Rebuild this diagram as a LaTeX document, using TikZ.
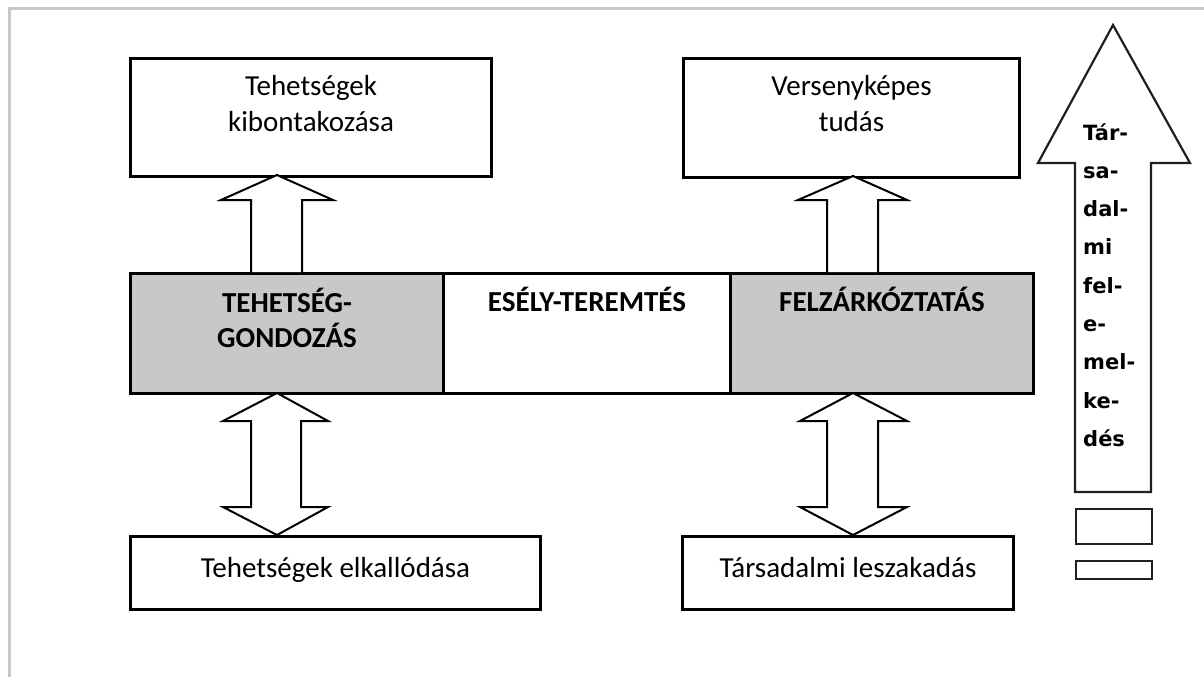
\documentclass[tikz,border=0pt]{standalone}
\usepackage{fontspec}
\setmainfont{Carlito}
\newfontfamily\arrowfont{DejaVu Sans}
\definecolor{framegray}{RGB}{200,200,200}
\definecolor{fillgray}{RGB}{200,200,200}
\tikzset{
  box/.style={draw=black, line width=3pt, fill=white, rectangle, inner sep=0pt, anchor=north west},
  graybox/.style={box, fill=fillgray},
  txt/.style={font=\fontsize{29}{35}\selectfont, anchor=base, inner sep=0pt},
  btxt/.style={txt, font=\fontsize{29}{35}\selectfont\bfseries},
  atxt/.style={font=\arrowfont\bfseries\fontsize{21}{25}\selectfont, anchor=base west, inner sep=0pt},
  blockarrow/.style={draw=black, line width=2pt, fill=white, line join=miter},
  bigarrow/.style={draw=black!88, line width=2.2pt, fill=white, line join=miter},
  smallrect/.style={draw=black!88, line width=2.2pt, rectangle, inner sep=0pt, anchor=north west}
}
\begin{document}
\begin{tikzpicture}[x=1pt,y=-1pt]
\useasboundingbox (0,0) rectangle (1204,677);
% frame
\draw[framegray, line width=3.5pt] (9.5,677) -- (9.5,8.5) -- (1204,8.5);

% top boxes
\node[box, minimum width=361, minimum height=118] (tk) at (129,57) {};
\node[box, minimum width=336, minimum height=119] (vt) at (682,57) {};
\node[txt] (tk1) at ([yshift=-38]tk.north) {Tehetségek};
\node[txt] (tk2) at ([yshift=-74]tk.north) {kibontakozása};
\node[txt] (vt1) at ([yshift=-38]vt.north) {Versenyképes};
\node[txt] (vt2) at ([yshift=-74]vt.north) {tudás};

% middle row
\node[graybox, minimum width=313, minimum height=120] (tg) at (129,272) {};
\node[box, minimum width=287, minimum height=120] (es) at (442,272) {};
\node[graybox, minimum width=303, minimum height=120] (fz) at (729,272) {};
\node[btxt] (tg1) at ([yshift=-40]tg.north) {TEHETSÉG-};
\node[btxt] (tg2) at ([yshift=-75]tg.north) {GONDOZÁS};
\node[btxt] (es1) at ([yshift=-39]es.north) {ESÉLY-TEREMTÉS};
\node[btxt] (fz1) at ([yshift=-39]fz.north) {FELZÁRKÓZTATÁS};

% bottom boxes
\node[box, minimum width=410, minimum height=73] (te) at (129,535) {};
\node[box, minimum width=331, minimum height=73] (tl) at (681,535) {};
\node[txt] (te1) at ([yshift=-42]te.north) {Tehetségek elkallódása};
\node[txt] (tl1) at ([yshift=-42]tl.north) {Társadalmi leszakadás};

% up arrows
\draw[blockarrow] (251,272) -- (251,200) -- (221,200) -- (277,175) -- (333,200) -- (302,200) -- (302,272);
\draw[blockarrow] (827,272) -- (827,200) -- (798,200) -- (853,176) -- (907,200) -- (878,200) -- (878,272);

% double arrows
\draw[blockarrow] (277,393) -- (328,421) -- (301,421) -- (301,507) -- (328,507) -- (277,535) -- (223,507) -- (251,507) -- (251,421) -- (223,421) -- cycle;
\draw[blockarrow] (853,393) -- (907,421) -- (878,421) -- (878,507) -- (907,507) -- (853,535) -- (800,507) -- (827,507) -- (827,421) -- (800,421) -- cycle;

% big arrow
\draw[bigarrow] (1113,25) -- (1190,163) -- (1151,163) -- (1151,492) -- (1075,492) -- (1075,163) -- (1038,163) -- cycle;
\node[atxt] (a1) at (1083,140) {Tár-};
\node[atxt] (a2) at (1083,178.3) {sa-};
\node[atxt] (a3) at (1083,216.6) {dal-};
\node[atxt] (a4) at (1083,254.9) {mi};
\node[atxt] (a5) at (1083,293.2) {fel-};
\node[atxt] (a6) at (1083,331.5) {e-};
\node[atxt] (a7) at (1083,369.8) {mel-};
\node[atxt] (a8) at (1083,408.1) {ke-};
\node[atxt] (a9) at (1083,446.4) {dés};
\node[smallrect, minimum width=76, minimum height=35] (r1) at (1075,508) {};
\node[smallrect, minimum width=76, minimum height=18] (r2) at (1075,560) {};
\end{tikzpicture}
\end{document}
